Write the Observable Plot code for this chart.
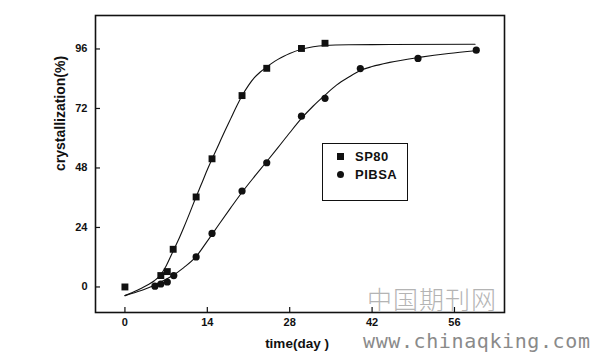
<!DOCTYPE html>
<html>
<head>
<meta charset="utf-8">
<script src="https://cdn.jsdelivr.net/npm/d3@7"></script>
<script src="https://cdn.jsdelivr.net/npm/@observablehq/plot@0.6"></script>
<style>
  html, body { margin: 0; padding: 0; background: #fff; }
  #wrap { position: relative; width: 596px; height: 362px; overflow: hidden; font-family: "Liberation Sans", Arial, sans-serif; }
  #legend { position: absolute; left: 322px; top: 143px; width: 86px; height: 58px; border: 1.5px solid #111; box-sizing: border-box; background: #fff; }
  .lg-row { position: absolute; left: 0; height: 16px; display: flex; align-items: center; font-size: 13px; font-weight: bold; letter-spacing: 0.5px; color: #111; }
  .lg-row svg { margin-left: 14px; margin-right: 11px; }
  #wm1 { position: absolute; left: 367px; top: 286px; line-height: 25px; font-family: "Noto Sans CJK SC", sans-serif; font-weight: 300; font-size: 25px; letter-spacing: 1px; color: #b4b4b4; }
  #wm2 { position: absolute; left: 363px; top: 334px; line-height: 15px; font-family: "DejaVu Sans Mono", monospace; font-size: 20px; color: #8a8a8a; white-space: nowrap; letter-spacing: 0.6px; }
</style>
</head>
<body>
<div id="wrap"></div>
<script>
// ---- data ----
const xTicks = [0, 14, 28, 42, 56];
const yTicks = [0, 24, 48, 72, 96];

const sp80Days   = [0, 6.1, 7.2, 8.2, 12.1, 14.8, 19.9, 24.1, 30.0, 34.0];
const sp80Values = [0, 4.6, 6.2, 15.2, 36.3, 51.7, 77.2, 88.2, 96.2, 98.3];

const pibsaDays   = [5.1, 6.1, 7.2, 8.3, 12.1, 14.8, 19.9, 24.1, 30.0, 34.0, 40.0, 49.8, 59.7];
const pibsaValues = [0.3, 1.2, 2.0, 4.6, 12.1, 21.6, 38.7, 50.1, 68.9, 76.1, 88.1, 92.2, 95.5];

// fitted curves
const sp80FitDays   = [0, 2, 4, 5, 6, 7, 8, 9, 10, 11, 12, 13, 14, 15, 16, 17, 18, 19, 20, 21, 22, 23, 24, 25, 26, 27, 28, 30, 32, 34, 38, 45, 59.5];
const sp80FitValues = [-3.5, -1.4, 1.0, 2.5, 4.7, 8.5, 13.5, 18.5, 24.0, 29.8, 35.8, 41.5, 47.3, 52.6, 57.8, 63.0, 68.0, 73.0, 77.5, 81.3, 84.4, 86.7, 88.6, 90.3, 91.8, 93.1, 94.2, 95.9, 96.9, 97.4, 97.7, 97.8, 97.9];

const pibsaFitDays   = [0, 2, 4, 6, 8, 10, 12, 14, 16, 18, 20, 22, 24, 26, 28, 30, 32, 34, 36, 38, 40, 42, 45, 50, 55, 59.6];
const pibsaFitValues = [-3.5, -2.0, -0.3, 1.9, 4.4, 7.8, 12.0, 18.5, 25.3, 32.0, 38.5, 44.5, 50.3, 56.2, 62.2, 68.0, 73.0, 77.4, 81.5, 84.6, 87.3, 88.9, 90.6, 92.6, 94.2, 95.3];

const seriesNames = ["SP80", "PIBSA"];
const xLabel = "time(day )";
const yLabel = "crystallization(%)";

// ---- tables ----
const sp80 = sp80Days.map((d, i) => ({day: d, value: sp80Values[i]}));
const pibsa = pibsaDays.map((d, i) => ({day: d, value: pibsaValues[i]}));
const sp80Fit = sp80FitDays.map((d, i) => ({day: d, value: sp80FitValues[i]}));
const pibsaFit = pibsaFitDays.map((d, i) => ({day: d, value: pibsaFitValues[i]}));

const ink = "#111";
const fontFamily = "'Liberation Sans', Arial, sans-serif";

const chart = Plot.plot({
  width: 596,
  height: 362,
  marginLeft: 95,
  marginRight: 92,
  marginTop: 15,
  marginBottom: 50,
  style: {fontFamily, background: "transparent", color: ink},
  x: {domain: [-5, 64.5]},
  y: {domain: [-10.3, 109.5]},
  marks: [
    Plot.line(sp80Fit, {x: "day", y: "value", curve: "monotone-x", stroke: ink, strokeWidth: 1.1}),
    Plot.line(pibsaFit, {x: "day", y: "value", curve: "monotone-x", stroke: ink, strokeWidth: 1.1}),
    Plot.dot(sp80, {x: "day", y: "value", symbol: "square", r: 3.9, fill: ink, stroke: "none"}),
    Plot.dot(pibsa, {x: "day", y: "value", symbol: "circle", r: 3.6, fill: ink, stroke: "none"}),
    Plot.tickX(xTicks, {x: d => d, insetTop: 292, stroke: ink, strokeWidth: 1.2}),
    Plot.tickY(yTicks, {y: d => d, insetRight: 404, stroke: ink, strokeWidth: 1.2}),
    Plot.axisX({ticks: xTicks, tickSize: 0, tickPadding: 6, label: null, fontSize: 11, fontWeight: "bold", tickFormat: d => String(d)}),
    Plot.axisY({ticks: yTicks, tickSize: 0, tickPadding: 8, label: null, fontSize: 11, fontWeight: "bold", tickFormat: d => String(d)}),
    Plot.frame({stroke: ink, strokeWidth: 1.6}),
    Plot.text([xLabel], {frameAnchor: "bottom", dx: -3, dy: 35, fontSize: 13.5, fontWeight: "bold", fill: ink}),
    Plot.text([yLabel], {frameAnchor: "left", rotate: -90, dx: -35, dy: 7, fontSize: 14, fontWeight: "bold", fill: ink})
  ]
});

const wrap = document.getElementById("wrap");
wrap.appendChild(chart);

// legend
const legend = document.createElement("div");
legend.id = "legend";
const symbols = [
  '<svg width="7" height="7"><rect x="0" y="0" width="7" height="7" fill="#111"/></svg>',
  '<svg width="7" height="7"><circle cx="3.5" cy="3.5" r="3.5" fill="#111"/></svg>'
];
seriesNames.forEach((name, i) => {
  const row = document.createElement("div");
  row.className = "lg-row";
  row.style.top = (4 + i * 18.5) + "px";
  row.innerHTML = symbols[i] + "<span>" + name + "</span>";
  legend.appendChild(row);
});
wrap.appendChild(legend);

// watermark
const wm1 = document.createElement("div");
wm1.id = "wm1";
wm1.textContent = "中国期刊网";
wrap.appendChild(wm1);
const wm2 = document.createElement("div");
wm2.id = "wm2";
wm2.textContent = "www.chinaqking.com";
wrap.appendChild(wm2);
</script>
</body>
</html>
